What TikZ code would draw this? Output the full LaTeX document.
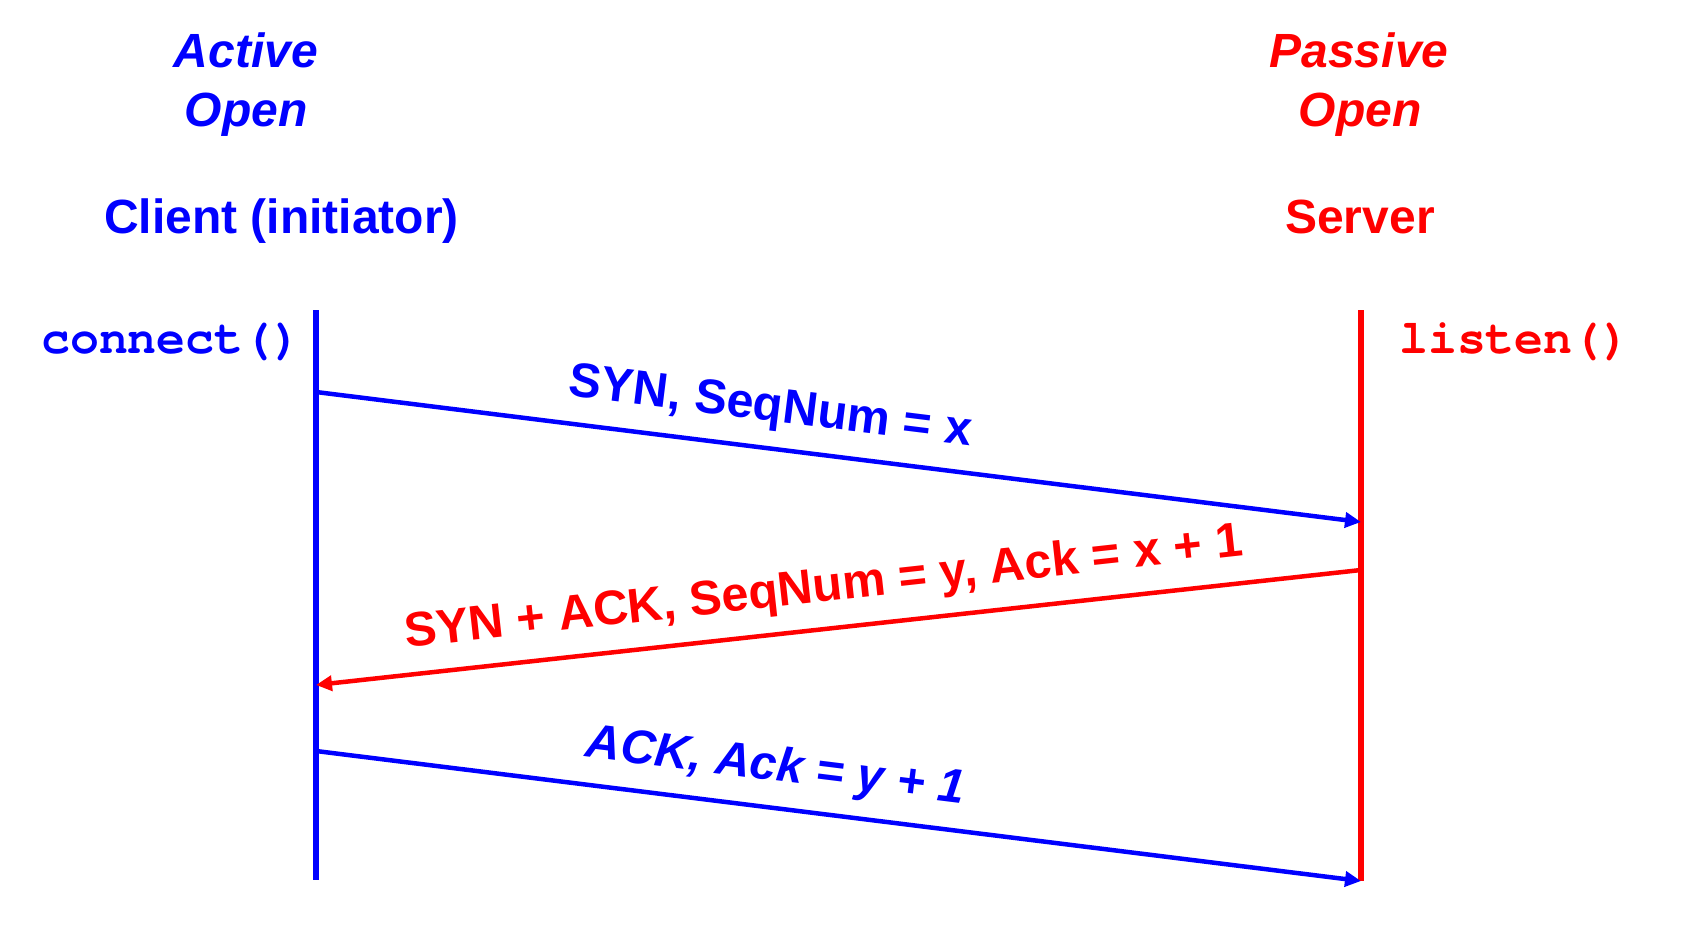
\documentclass[tikz,border=0pt]{standalone}
\usepackage{fontspec}
\setmainfont{Liberation Sans}
\newfontfamily\monof{texgyrecursor-regular.otf}[BoldFont=texgyrecursor-bold.otf]
\usetikzlibrary{arrows.meta}
\definecolor{cblue}{RGB}{0,0,255}
\definecolor{cred}{RGB}{255,0,0}
\tikzset{
  hdr/.style={anchor=base,inner sep=0pt,font=\fontsize{48}{56}\selectfont\bfseries},
  hdri/.style={hdr,font=\fontsize{48}{56}\selectfont\bfseries\itshape},
  fn/.style={anchor=base west,inner sep=0pt,font=\fontsize{48.2}{56}\selectfont\monof\bfseries},
  life/.style={line width=5.5pt},
  msg/.style={line width=4.5pt,-{Triangle[length=16pt,width=15pt]}},
  lbl/.style={sloped,anchor=south,text depth=0pt,inner xsep=0pt,inner ysep=25pt,font=\fontsize{48.5}{56}\selectfont\bfseries}
}
\begin{document}
\begin{tikzpicture}[x=1pt,y=-1pt]
\useasboundingbox (0,0) rectangle (1685,934);
% headers
\node[hdri,text=cblue] (act) at (246,67) {Active};
\node[hdri,text=cblue] (aop) at (246,126) {Open};
\node[hdr,text=cblue] (cli) at (281.5,233) {Client (initiator)};
\node[hdri,text=cred] (pas) at (1359,67) {Passive};
\node[hdri,text=cred] (pop) at (1360,126) {Open};
\node[hdr,text=cred] (srv) at (1360,233) {Server};
\node[fn,text=cblue] (con) at (41,353) {connect()};
\node[fn,text=cred] (lis) at (1399,353) {listen()};
% lifelines
\coordinate (ctop) at (316,310);
\coordinate (cbot) at (316,880);
\coordinate (stop) at (1361,310);
\coordinate (sbot) at (1361,881);
\draw[life,cred] (stop) -- (sbot);
\draw[life,cblue] (ctop) -- (cbot);
% messages
\coordinate (c1) at (316,392);
\coordinate (s1) at (1361,522);
\coordinate (s2) at (1361,570);
\coordinate (c2) at (316,685);
\coordinate (c3) at (316,751);
\coordinate (s3) at (1361,881);
\draw[msg,cblue] (c1) -- node[lbl,pos=0.43,text=cblue] (l1) {SYN, SeqNum = x} (s1);
\draw[msg,cred] (s2) -- node[lbl,pos=0.51,text=cred] (l2) {SYN + ACK, SeqNum = y, Ack = x + 1} (c2);
\draw[msg,cblue] (c3) -- node[lbl,pos=0.435,text=cblue,font=\fontsize{48}{56}\selectfont\bfseries\itshape] (l3) {ACK, Ack = y + 1} (s3);
\end{tikzpicture}
\end{document}
